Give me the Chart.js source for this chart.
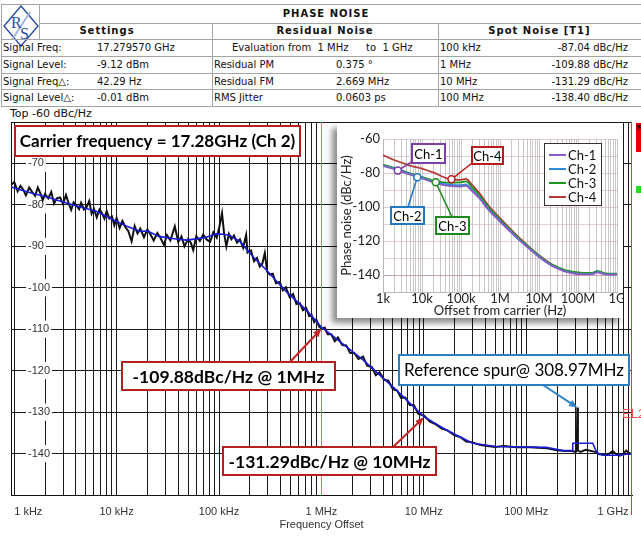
<!DOCTYPE html>
<html>
<head>
<meta charset="utf-8">
<script src="https://cdn.jsdelivr.net/npm/chart.js"></script>
<style>
body{margin:0;background:#fff;width:641px;height:536px;overflow:hidden;position:relative;font-family:"DejaVu Sans",sans-serif;color:#111;}
.ln{position:absolute;background:#a4a4a4;}
.t{position:absolute;font-size:10px;white-space:nowrap;line-height:17px;}
.b{font-weight:bold;letter-spacing:1px;}
#main{position:absolute;left:0;top:118px;}
#inset{position:absolute;left:337px;top:123px;background:#fff;box-shadow:-5px 5px 6px rgba(0,0,0,0.45);}
</style>
</head>
<body>

<svg style="position:absolute;left:3px;top:5px" width="36" height="42" viewBox="0 0 36 42">
	<polygon points="18,1 35,21 18,41 1,21" fill="none" stroke="#2a4ea6" stroke-width="1.4"/>
	<line x1="27" y1="7" x2="9" y2="35" stroke="#a8b4e0" stroke-width="2"/>
	<text x="8" y="23" font-size="16" fill="#2a4ea6" font-family="Liberation Serif">R</text>
	<text x="17" y="34" font-size="16" fill="#2a4ea6" font-family="Liberation Serif">S</text>
</svg>

<div class="ln" style="left:1px;top:4px;width:640px;height:1px"></div>
<div class="ln" style="left:39px;top:23px;width:602px;height:1px"></div>
<div class="ln" style="left:1px;top:39px;width:640px;height:1px"></div>
<div class="ln" style="left:1px;top:56px;width:640px;height:1px"></div>
<div class="ln" style="left:1px;top:73px;width:640px;height:1px"></div>
<div class="ln" style="left:1px;top:89px;width:640px;height:1px"></div>
<div class="ln" style="left:1px;top:106px;width:640px;height:1px"></div>
<div class="ln" style="left:1px;top:4px;width:1px;height:103px"></div>
<div class="ln" style="left:39px;top:4px;width:1px;height:35px"></div>
<div class="ln" style="left:212px;top:23px;width:1px;height:84px"></div>
<div class="ln" style="left:438px;top:23px;width:1px;height:84px"></div>

<div class="t b" style="left:39px;top:4px;width:574px;text-align:center;line-height:19px">PHASE NOISE</div>
<div class="t b" style="left:1px;top:23px;width:212px;text-align:center;line-height:16px">Settings</div>
<div class="t b" style="left:212px;top:23px;width:226px;text-align:center;line-height:16px">Residual Noise</div>
<div class="t b" style="left:438px;top:23px;width:203px;text-align:center;line-height:16px">Spot Noise [T1]</div>

<div class="t" style="left:3px;top:39px">Signal Freq:</div>
<div class="t" style="left:97px;top:39px">17.279570 GHz</div>
<div class="t" style="left:3px;top:56px">Signal Level:</div>
<div class="t" style="left:97px;top:56px">-9.12 dBm</div>
<div class="t" style="left:3px;top:73px">Signal Freq△:</div>
<div class="t" style="left:97px;top:73px">42.29 Hz</div>
<div class="t" style="left:3px;top:89px">Signal Level△:</div>
<div class="t" style="left:97px;top:89px">-0.01 dBm</div>

<div class="t" style="left:232px;top:39px">Evaluation from&nbsp; 1 MHz</div>
<div class="t" style="left:366px;top:39px">to&nbsp; 1 GHz</div>
<div class="t" style="left:214px;top:56px">Residual PM</div>
<div class="t" style="left:336px;top:56px">0.375 °</div>
<div class="t" style="left:214px;top:73px">Residual FM</div>
<div class="t" style="left:336px;top:73px">2.669 MHz</div>
<div class="t" style="left:214px;top:89px">RMS Jitter</div>
<div class="t" style="left:336px;top:89px">0.0603 ps</div>

<div class="t" style="left:440px;top:39px">100 kHz</div>
<div class="t" style="left:500px;top:39px;width:128px;text-align:right">-87.04 dBc/Hz</div>
<div class="t" style="left:440px;top:56px">1 MHz</div>
<div class="t" style="left:500px;top:56px;width:128px;text-align:right">-109.88 dBc/Hz</div>
<div class="t" style="left:440px;top:73px">10 MHz</div>
<div class="t" style="left:500px;top:73px;width:128px;text-align:right">-131.29 dBc/Hz</div>
<div class="t" style="left:440px;top:89px">100 MHz</div>
<div class="t" style="left:500px;top:89px;width:128px;text-align:right">-138.40 dBc/Hz</div>

<div class="t" style="left:10px;top:107px;font-size:11px;line-height:14px">Top -60 dBc/Hz</div>

<canvas id="main" width="641" height="418"></canvas>
<canvas id="inset" width="286" height="195"></canvas>

<div style="position:absolute;left:636px;top:123px;width:6px;height:29px;background:#e80000;font-size:12px;line-height:12px;color:#000">*</div>
<div style="position:absolute;left:636px;top:186px;width:6px;height:7px;background:#22dd22"></div>

<script>
// main trace (black, measured) and smoothed trace (blue): [offset Hz, dBc/Hz]
var measuredTrace = [
	[930,-75.2],[1000,-74.5],[1080,-76.7],[1150,-75.4],[1230,-76.4],[1300,-77.7],[1400,-75.8],[1500,-76.9],
	[1600,-77.8],[1700,-75.8],[1800,-77.2],[1900,-78.8],[2000,-77.4],[2150,-78.4],[2300,-76.9],[2450,-79.7],
	[2600,-78.4],[2800,-78.2],[3000,-79.8],[3200,-77.6],[3400,-79.6],[3600,-81.2],[3800,-79.4],[4000,-80.0],
	[4300,-81.0],[4500,-79.5],[4800,-81.1],[5100,-80.5],[5400,-79.1],[5700,-82.1],[6000,-80.9],[6400,-83.0],
	[6800,-81.1],[7200,-82.0],[7600,-83.3],[8000,-81.5],[8500,-83.3],[9000,-82.8],[9500,-84.9],[10000,-83.2],
	[10700,-85.6],[11400,-83.9],[12200,-85.4],[13000,-86.3],[14000,-88.8],[15000,-85.1],[16000,-86.9],[17000,-85.7],
	[18500,-87.8],[20000,-85.9],[21500,-87.2],[23000,-88.6],[25000,-86.8],[27000,-88.1],[29000,-89.7],[31000,-87.3],
	[33500,-88.6],[37000,-85.2],[40000,-88.9],[43000,-87.6],[46000,-90.0],[50000,-88.2],[53000,-89.1],[56000,-90.9],
	[60000,-87.6],[65000,-88.7],[70000,-87.2],[76000,-88.4],[82000,-88.9],[88000,-86.6],[95000,-87.9],[101000,-85.2],
	[107000,-82.0],[112000,-86.8],[118000,-90.0],[125000,-87.0],[132000,-88.3],[140000,-87.4],[150000,-89.1],[160000,-88.3],
	[172000,-90.3],[184000,-87.3],[190000,-91.5],[205000,-91.0],[220000,-93.6],[235000,-92.8],[250000,-94.9],[265000,-94.2],
	[280000,-91.6],[295000,-96.1],[313000,-96.8],[335000,-96.6],[360000,-98.9],[392000,-98.6],[420000,-100.6],[450000,-99.9],
	[490000,-102.3],[528000,-101.5],[570000,-103.9],[615000,-103.7],[660000,-105.4],[710000,-104.9],[760000,-106.8],[800000,-106.5],
	[850000,-108.3],[890000,-107.6],[950000,-109.4],[1000000,-109.8],[1080000,-109.6],[1150000,-111.2],[1250000,-111.2],[1350000,-112.9],
	[1450000,-112.0],[1600000,-113.8],[1750000,-113.9],[1900000,-115.7],[2100000,-115.8],[2300000,-117.2],[2550000,-116.6],[2800000,-118.8],
	[3100000,-119.1],[3400000,-121.1],[3700000,-120.4],[4100000,-122.2],[4500000,-122.4],[5000000,-124.5],[5500000,-124.8],[6000000,-126.6],
	[6600000,-126.5],[7300000,-128.3],[8000000,-128.3],[8800000,-130.4],[10000000,-130.8],[11500000,-132.3],[13000000,-132.9],[15000000,-134.0],
	[17000000,-134.4],[20000000,-135.6],[23000000,-136.1],[26000000,-137.1],[30000000,-137.3],[35000000,-137.9],[40000000,-138.1],[50000000,-138.4],
	[60000000,-138.2],[80000000,-138.5],[100000000,-138.4],[130000000,-138.6],[160000000,-138.7],[200000000,-139.2],[240000000,-139.4],[280000000,-139.4],
	[305000000,-139.6],[312000000,-139.3],[316000000,-128.9],[320000000,-139.3],[340000000,-139.6],[380000000,-139.1],[420000000,-139.3],[470000000,-139.6],
	[520000000,-140.2],[580000000,-140.3],[650000000,-140.0],[700000000,-139.4],[760000000,-140.2],[820000000,-140.5],[880000000,-140.1],[950000000,-139.3],
	[1000000000,-139.8],[1080000000,-140.1]
];
var smoothTrace = [
	[930,-75.6],[1000,-75.9],[1500,-77.2],[2000,-78.0],[3000,-79.3],[4000,-80.2],[6400,-81.6],[10000,-84.0],
	[13000,-85.3],[17000,-86.4],[20000,-86.3],[26000,-87.6],[35000,-88.1],[48000,-88.5],[60000,-88.2],[75000,-87.8],
	[94000,-87.0],[110000,-87.1],[127000,-87.4],[160000,-88.8],[215000,-92.5],[290000,-95.7],[456000,-101.0],[714000,-105.4],
	[1000000,-109.5],[1200000,-111.0],[2550000,-117.4],[5400000,-124.7],[10000000,-131.1],[16600000,-134.3],[30000000,-137.5],[51000000,-138.3],
	[157000000,-138.5],[228000000,-139.3],[284000000,-139.3],[285000000,-137.5],[447000000,-137.5],[490000000,-139.8],[560000000,-140.4],[800000000,-140.4],
	[1000000000,-140.1],[1080000000,-140.2]
];

var xTickValues = [1e3, 1e4, 1e5, 1e6, 1e7, 1e8, 1e9];
var xTickLabels = ['1 kHz', '10 kHz', '100 kHz', '1 MHz', '10 MHz', '100 MHz', '1 GHz'];
var markerFreq = 1e6;

// annotation texts and the points they point at
var noteTexts = ['-109.88dBc/Hz @ 1MHz', '-131.29dBc/Hz @ 10MHz'];
var noteFreqs = [1e6, 1e7];
var noteValues = [-109.88, -131.29];
var spurText = 'Reference spur@ 308.97MHz';
var spurFreq = 3.16e8;
var spurValue = -128.9;
var carrierText = 'Carrier frequency = 17.28GHz (Ch 2)';

// inset: four channels
var insetFreq = [1e3,2e3,5e3,1e4,2e4,5e4,1e5,1.4e5,2e5,3e5,5e5,1e6,2e6,3e6,5e6,1e7,2e7,3e7,5e7,1e8,2e8,2.6e8,3e8,4e8,5e8,1e9];
var ch1 = [-75.8,-77.8,-81.0,-83.2,-85.6,-87.6,-88.0,-87.6,-91.0,-95.0,-101.5,-108.6,-115.4,-119.2,-123.6,-129.4,-134.2,-136.2,-138.2,-139.4,-139.6,-139.2,-138.4,-139.0,-139.6,-139.8];
var ch2 = [-75.6,-77.5,-80.6,-82.8,-85.2,-86.8,-87.2,-86.8,-90.4,-94.6,-101.0,-108.2,-115.0,-118.9,-123.3,-129.1,-134.0,-136.0,-138.0,-139.2,-139.5,-139.0,-138.2,-138.8,-139.5,-139.6];
var ch3 = [-75.0,-77.0,-80.2,-82.2,-84.6,-85.8,-85.5,-85.0,-88.8,-93.4,-100.0,-107.4,-114.4,-118.3,-122.8,-128.6,-133.5,-135.4,-137.3,-138.5,-138.8,-138.4,-137.6,-138.3,-139.0,-139.2];
var ch4 = [-69.5,-72.5,-75.6,-77.4,-79.8,-83.6,-84.0,-83.6,-87.4,-92.0,-99.0,-106.6,-113.8,-117.8,-122.4,-128.4,-133.4,-135.5,-137.6,-138.8,-139.2,-138.8,-138.0,-138.6,-139.2,-139.4];
var chNames = ['Ch-1', 'Ch-2', 'Ch-3', 'Ch-4'];
var chColors = ['#8a5cc4', '#2f8ad6', '#1f961f', '#b33a38'];
var chBoxColors = ['#7b3faa', '#1f78c8', '#1e8a1e', '#b81c1c'];
var insetXLabels = ['1k', '10k', '100k', '1M', '10M', '100M', '1G'];
var calloutFreq = [2400, 7600, 22600, 57000];
var calloutDb = [-78.6, -82.5, -85.5, -83.7];

Chart.defaults.font.family = 'Liberation Sans';
Chart.defaults.color = '#222';

function gridTicks(from, to){
	var t = [];
	for (var d = from; d < to; d *= 10) {
		for (var m = 1; m < 10; m++) t.push({value: m * d});
	}
	t.push({value: to});
	return t;
}

function toXY(f, v){
	return f.map(function(x, i){ return {x: x, y: v[i]}; });
}

function arrow(ctx, x1, y1, x2, y2, color){
	var a = Math.atan2(y2 - y1, x2 - x1), h = 9;
	ctx.strokeStyle = color; ctx.fillStyle = color; ctx.lineWidth = 2;
	ctx.beginPath();
	ctx.moveTo(x1, y1);
	ctx.lineTo(x2 - Math.cos(a) * h * 0.8, y2 - Math.sin(a) * h * 0.8);
	ctx.stroke();
	ctx.beginPath();
	ctx.moveTo(x2, y2);
	ctx.lineTo(x2 - h * Math.cos(a - 0.4), y2 - h * Math.sin(a - 0.4));
	ctx.lineTo(x2 - h * Math.cos(a + 0.4), y2 - h * Math.sin(a + 0.4));
	ctx.closePath();
	ctx.fill();
}

function textBox(ctx, x, y, w, h, text, border, font){
	ctx.fillStyle = '#fff';
	ctx.fillRect(x, y, w, h);
	ctx.strokeStyle = border; ctx.lineWidth = 2;
	ctx.strokeRect(x, y, w, h);
	ctx.fillStyle = '#000';
	ctx.font = font;
	ctx.textAlign = 'center';
	ctx.textBaseline = 'middle';
	ctx.fillText(text, x + w / 2, y + h / 2 + 1);
}

var mainDecor = {
	id: 'mainDecor',
	beforeDatasetsDraw: function(chart){
		var ctx = chart.ctx, a = chart.chartArea;
		var px = Math.round(chart.scales.x.getPixelForValue(markerFreq)) + 0.5;
		ctx.save();
		ctx.strokeStyle = '#f26868'; ctx.lineWidth = 1;
		ctx.beginPath(); ctx.moveTo(px, a.top); ctx.lineTo(px, a.bottom); ctx.stroke();
		ctx.restore();
	},
	afterDraw: function(chart){
		var ctx = chart.ctx, a = chart.chartArea, xs = chart.scales.x, ys = chart.scales.y;
		ctx.save();
		ctx.strokeStyle = '#ff3030'; ctx.lineWidth = 1;
		ctx.beginPath(); ctx.moveTo(a.right - 0.5, a.top); ctx.lineTo(a.right - 0.5, 397); ctx.stroke();

		textBox(ctx, 15, 8, 285, 30, carrierText, '#b51f1f', 'bold 17px Lato');

		arrow(ctx, 290, 244, xs.getPixelForValue(noteFreqs[0]), ys.getPixelForValue(noteValues[0]), '#c42424');
		textBox(ctx, 122, 244, 213, 28, noteTexts[0], '#b51f1f', 'bold 17.5px Lato');
		arrow(ctx, 393, 329, xs.getPixelForValue(noteFreqs[1]), ys.getPixelForValue(noteValues[1]), '#c42424');
		textBox(ctx, 223, 329, 213, 28, noteTexts[1], '#b51f1f', 'bold 17.5px Lato');

		arrow(ctx, 543, 267, xs.getPixelForValue(spurFreq), ys.getPixelForValue(spurValue), '#2e86c8');
		textBox(ctx, 399, 237, 230, 30, spurText, '#2a7fc0', '17px Lato');

		ctx.fillStyle = '#ff4a4a';
		ctx.font = '13px Liberation Sans';
		ctx.textAlign = 'left'; ctx.textBaseline = 'middle';
		ctx.fillText('EL2', 622, 296);
		ctx.restore();
	}
};

var mainChart = new Chart(document.getElementById('main'), {
	type: 'line',
	data: {
		datasets: [
		{
			label: 'Smoothed',
			data: smoothTrace.map(function(p){ return {x: p[0], y: p[1]}; }),
			borderColor: '#1c1cd8',
			borderWidth: 1.6,
			pointRadius: 0
		},
		{
			label: 'Measured',
			data: measuredTrace.map(function(p){ return {x: p[0], y: p[1]}; }),
			borderColor: '#111',
			borderWidth: 2,
			pointRadius: 0
		}
		]
	},
	options: {
		responsive: false,
		animation: false,
		devicePixelRatio: 1,
		layout: {padding: {left: 11, right: 9, top: 4, bottom: 0}},
		plugins: {legend: {display: false}, tooltip: {enabled: false}},
		scales: {
			x: {
				type: 'logarithmic',
				min: 930,
				max: 1.08e9,
				afterBuildTicks: function(s){ s.ticks = gridTicks(1e3, 1e9); },
				afterFit: function(s){ s.height = 41; s.paddingLeft = 0; s.paddingRight = 0; },
				ticks: {
					autoSkip: false, maxRotation: 0, minRotation: 0, align: 'inner', padding: 10,
					font: {size: 11}, color: '#333',
					callback: function(v){ var i = xTickValues.indexOf(v); return i >= 0 ? xTickLabels[i] : ''; }
				},
				grid: {color: '#1a1a1a', drawTicks: false},
				border: {color: '#111'},
				title: {display: true, text: 'Frequency Offset', font: {size: 11}, color: '#333', padding: {top: 0, bottom: 4}}
			},
			y: {
				min: -150,
				max: -60,
				afterFit: function(s){ s.width = 0; s.paddingTop = 0; s.paddingBottom = 0; },
				ticks: {
					stepSize: 10, mirror: true, padding: 17, font: {size: 11}, color: '#333', autoSkip: false,
					showLabelBackdrop: true, backdropPadding: 2,
					backdropColor: function(c){ return (c.tick && c.tick.label) ? '#fff' : 'rgba(0,0,0,0)'; },
					callback: function(v){ return (v === -60 || v === -150) ? '' : String(v); }
				},
				grid: {color: '#1a1a1a', drawTicks: false},
				border: {color: '#111'}
			}
		}
	},
	plugins: [mainDecor]
});

// inset callout boxes [x, y, w, h] and where their leader lines end
var calloutBoxes = [[75, 21, 33, 19], [54, 84, 33, 17], [99, 94, 33, 17], [135, 24, 31, 17]];
var calloutEnds = [[76, 38], [71, 84], [115, 94], [135, 40]];

var insetDecor = {
	id: 'insetDecor',
	afterDraw: function(chart){
		var ctx = chart.ctx, xs = chart.scales.x, ys = chart.scales.y;
		ctx.save();
		for (var i = 0; i < 4; i++) {
			var cx = xs.getPixelForValue(calloutFreq[i]), cy = ys.getPixelForValue(calloutDb[i]);
			var b = calloutBoxes[i], e = calloutEnds[i];
			ctx.strokeStyle = chBoxColors[i]; ctx.lineWidth = 1.5;
			ctx.beginPath(); ctx.moveTo(cx, cy); ctx.lineTo(e[0], e[1]); ctx.stroke();
			ctx.beginPath(); ctx.arc(cx, cy, 3.5, 0, Math.PI * 2); ctx.fillStyle = '#fff'; ctx.fill(); ctx.stroke();
			textBox(ctx, b[0], b[1], b[2], b[3], chNames[i], chBoxColors[i], '13px Lato');
		}
		// legend
		ctx.fillStyle = '#fff';
		ctx.fillRect(207, 20, 57, 62);
		ctx.strokeStyle = '#333'; ctx.lineWidth = 1;
		ctx.strokeRect(207.5, 20.5, 57, 62);
		ctx.font = '13px Lato'; ctx.textAlign = 'left'; ctx.textBaseline = 'middle';
		chart.data.datasets.forEach(function(ds, k){
			var y = 32 + k * 14;
			ctx.strokeStyle = ds.borderColor; ctx.lineWidth = 2;
			ctx.beginPath(); ctx.moveTo(212, y); ctx.lineTo(229, y); ctx.stroke();
			ctx.fillStyle = '#111';
			ctx.fillText(ds.label, 231, y + 1);
		});
		ctx.restore();
	}
};

var insetChart = new Chart(document.getElementById('inset'), {
	type: 'line',
	data: {
		datasets: [
		{label: chNames[0], data: toXY(insetFreq, ch1), borderColor: chColors[0], borderWidth: 1.8, pointRadius: 0, tension: 0.3},
		{label: chNames[1], data: toXY(insetFreq, ch2), borderColor: chColors[1], borderWidth: 1.8, pointRadius: 0, tension: 0.3},
		{label: chNames[2], data: toXY(insetFreq, ch3), borderColor: chColors[2], borderWidth: 1.8, pointRadius: 0, tension: 0.3},
		{label: chNames[3], data: toXY(insetFreq, ch4), borderColor: chColors[3], borderWidth: 1.8, pointRadius: 0, tension: 0.3}
		]
	},
	options: {
		responsive: false,
		animation: false,
		devicePixelRatio: 1,
		layout: {padding: {left: 2, right: 6, top: 16, bottom: 0}},
		plugins: {legend: {display: false}, tooltip: {enabled: false}},
		scales: {
			x: {
				type: 'logarithmic',
				min: 1e3,
				max: 1e9,
				afterBuildTicks: function(s){ s.ticks = gridTicks(1e3, 1e9); },
				afterFit: function(s){ s.height = 26; s.paddingLeft = 0; s.paddingRight = 0; },
				ticks: {
					autoSkip: false, maxRotation: 0, minRotation: 0, padding: 0,
					font: {family: 'Lato', size: 13, lineHeight: 1}, color: '#222',
					callback: function(v){ var i = xTickValues.indexOf(v); return i >= 0 ? insetXLabels[i] : ''; }
				},
				grid: {color: '#c8c8c8', drawTicks: false},
				border: {color: '#b8b8b8'},
				title: {display: true, text: 'Offset from carrier (Hz)', font: {family: 'Lato', size: 13, lineHeight: 1}, color: '#222', padding: {top: 0, bottom: 1}}
			},
			y: {
				min: -150,
				max: -60,
				afterFit: function(s){ s.width = 44; s.paddingTop = 0; s.paddingBottom = 0; },
				ticks: {
					stepSize: 10, padding: 3, autoSkip: false, font: {family: 'Lato', size: 13}, color: '#222',
					callback: function(v){ return v % 20 === 0 ? String(v) : ''; }
				},
				grid: {
					drawTicks: false,
					color: function(c){ return (c.tick && c.tick.value === -140) ? 'rgba(190,120,150,0.7)' : 'rgba(205,175,190,0.6)'; }
				},
				border: {color: '#b8b8b8'},
				title: {display: true, text: 'Phase noise (dBc/Hz)', font: {family: 'Lato', size: 13}, color: '#222', padding: 0}
			}
		}
	},
	plugins: [insetDecor]
});
</script>
</body>
</html>
